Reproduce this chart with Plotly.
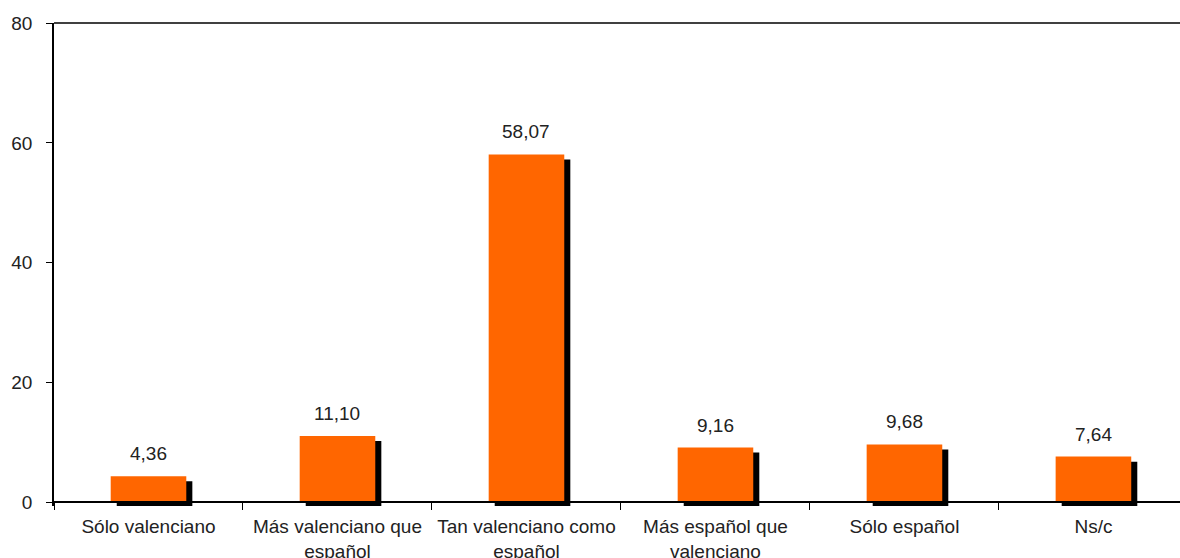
import plotly.graph_objects as go

categories = [
    "Sólo valenciano",
    "Más valenciano que<br>español",
    "Tan valenciano como<br>español",
    "Más español que<br>valenciano",
    "Sólo español",
    "Ns/c",
]
values = [4.36, 11.10, 58.07, 9.16, 9.68, 7.64]
y_ticks = [0, 20, 40, 60, 80]

ORANGE = "#FF6600"
FONT = "Liberation Sans"
Y_MIN = -0.6  # a little room under zero so the shadow pokes below the axis

fig = go.Figure()

# black drop shadow, shifted a little right and down
fig.add_trace(go.Bar(
    x=categories, y=values, base=-0.85,
    width=0.40, offset=-0.168,
    marker=dict(color="black", line_width=0),
    hoverinfo="skip", showlegend=False,
))
fig.add_trace(go.Bar(
    x=categories, y=values,
    width=0.40, offset=-0.20,
    marker=dict(color=ORANGE, line_width=0),
    showlegend=False,
))

for c, v in zip(categories, values):
    fig.add_annotation(
        x=c, y=v, text=f"{v:.2f}".replace(".", ","),
        showarrow=False, yanchor="bottom", yshift=10,
        font=dict(family=FONT, size=19, color="#222"),
    )

# top frame line only (no right border)
fig.add_shape(type="line", xref="paper", yref="paper",
              x0=0, x1=1, y0=1, y1=1,
              line=dict(color="black", width=1.5))

fig.update_layout(
    width=1180, height=558,
    margin=dict(l=54, r=0, t=23, b=52),
    barmode="overlay",
    plot_bgcolor="white", paper_bgcolor="white",
    font=dict(family=FONT, size=19, color="#222"),
)
fig.update_xaxes(
    range=[-0.5, 5.458],
    anchor="free", position=-Y_MIN / (80 - Y_MIN),
    showline=True, linecolor="black", linewidth=1.5,
    ticks="outside", tickson="boundaries", ticklen=7, tickcolor="black",
    tickangle=0, automargin=False, ticklabelstandoff=7,
    showgrid=False,
)
fig.update_yaxes(
    range=[Y_MIN, 80], tickvals=y_ticks,
    showline=True, linecolor="black", linewidth=1.5,
    ticks="outside", ticklen=6, tickcolor="black",
    automargin=False,
    showgrid=False, zeroline=False, ticklabelstandoff=10,
)

fig.write_html(
    "out.html",
    config={"displayModeBar": False},
    post_script="document.body.style.margin='0';document.body.style.overflow='hidden';",
)
